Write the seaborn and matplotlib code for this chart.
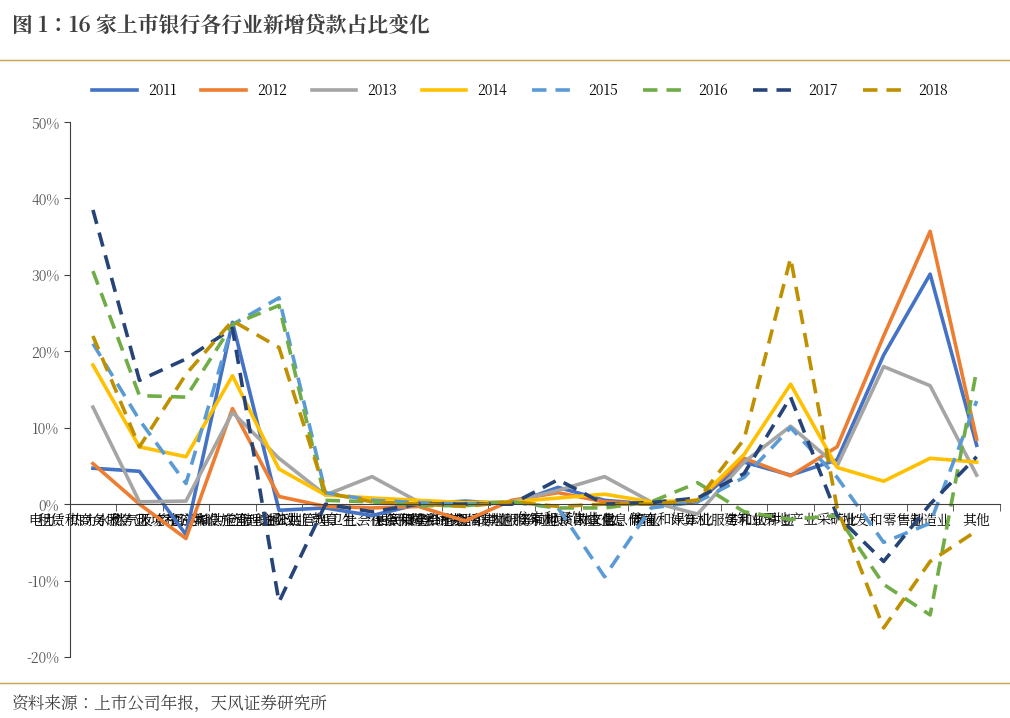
import seaborn as sns
import pandas as pd
import matplotlib.pyplot as plt
from matplotlib import font_manager as fm
from matplotlib.lines import Line2D

# find a CJK font file and register it
cjk_name = "Noto Sans CJK SC"
for f in fm.findSystemFonts():
    if "NotoSansCJK" in f or "NotoSansSC" in f or "CJK" in f:
        try:
            fm.fontManager.addfont(f)
            nm = fm.FontProperties(fname=f).get_name()
            if "CJK" in nm or "SC" in nm:
                cjk_name = nm
        except Exception:
            pass
plt.rcParams["font.family"] = "sans-serif"
plt.rcParams["font.sans-serif"] = [cjk_name, "Noto Sans CJK SC", "Noto Sans CJK JP", "DejaVu Sans"]
plt.rcParams["axes.unicode_minus"] = False

categories = [
    "租赁和商务服务业", "电力、热力、燃气及水生产和供应业", "水利、环境和公共设施管理业",
    "交通运输、仓储和邮政业", "金融业", "教育", "公共管理、社会保障和社会组织",
    "卫生、社会保障和社会福利业", "居民服务、修理和其他服务业", "科学研究、技术服务和地质勘查业",
    "住宿和餐饮业", "农、林、牧、渔业", "文化、体育和娱乐业", "信息传输、计算机服务和软件业",
    "建筑业", "房地产业", "采矿业", "批发和零售业", "制造业", "其他",
]

y2011 = [4.7, 4.3, -4.0, 23.8, -0.8, -0.5, -1.5, 0.0, 0.4, 0.0, 2.2, 0.5, 0.0, 0.3, 5.5, 3.8, 5.8, 19.5, 30.1, 7.7]
y2012 = [5.3, 0.0, -4.5, 12.5, 1.0, -0.3, -0.5, -0.3, -2.2, 0.5, 1.5, 0.3, 0.0, 0.5, 6.0, 3.7, 7.5, 22.0, 35.7, 8.5]
y2013 = [12.7, 0.3, 0.4, 12.0, 6.0, 1.2, 3.6, 0.3, 0.0, 0.3, 1.8, 3.6, 0.3, -1.3, 5.5, 10.2, 5.0, 18.0, 15.5, 3.8]
y2014 = [18.2, 7.5, 6.2, 16.8, 4.6, 1.2, 0.8, 0.5, 0.2, 0.3, 0.8, 1.3, 0.3, 0.5, 6.5, 15.7, 4.8, 3.0, 6.0, 5.5]
y2015 = [21.0, 11.0, 2.7, 23.5, 27.0, 1.5, 0.5, 0.2, 0.0, 0.3, -0.5, -9.5, -0.5, 0.3, 3.5, 10.0, 3.5, -5.0, -2.5, 13.5]
y2016 = [30.5, 14.2, 14.0, 23.5, 26.0, 0.5, 0.3, -0.2, -0.2, 0.3, -0.5, -0.5, 0.3, 2.8, -1.0, -2.0, -1.5, -10.5, -14.5, 17.5]
y2017 = [38.5, 16.2, 19.0, 23.0, -12.8, 0.0, -1.0, 0.0, 0.0, 0.0, 3.2, 0.0, 0.2, 0.8, 4.0, 14.0, -1.5, -7.5, 0.0, 6.2]
y2018 = [22.0, 7.5, 17.0, 24.0, 20.5, 1.5, 0.3, 0.0, -0.3, 0.3, -0.3, 0.0, 0.0, 0.5, 8.5, 32.2, -0.5, -16.2, -7.5, -3.5]

years = ["2011", "2012", "2013", "2014", "2015", "2016", "2017", "2018"]
series = [y2011, y2012, y2013, y2014, y2015, y2016, y2017, y2018]
colors = ["#4472C4", "#ED7D31", "#A5A5A5", "#FFC000", "#5B9BD5", "#70AD47", "#264478", "#BF9000"]

rows = []
for yr, vals in zip(years, series):
    for i, v in enumerate(vals):
        rows.append({"x": i, "value": v, "year": yr})
df = pd.DataFrame(rows)

palette = dict(zip(years, colors))
dashes = {yr: ("" if int(yr) < 2015 else (4, 2.5)) for yr in years}

fig = plt.figure(figsize=(10.1, 7.18), dpi=100)
ax = fig.add_axes([0.069, 0.085, 0.921, 0.745])
sns.lineplot(data=df, x="x", y="value", hue="year", style="year", palette=palette,
             dashes=dashes, linewidth=2.6, ax=ax, legend=False)

ax.set_xlim(-0.5, 19.5)
ax.set_ylim(-20, 50)
ax.set_yticks(range(-20, 51, 10))
ax.set_yticklabels([f"{t}%" for t in range(-20, 51, 10)], fontsize=10, color="#555555")
ax.set_xticks([i - 0.5 for i in range(len(categories) + 1)], minor=True)
ax.set_xticks(range(len(categories)))
ax.set_xticklabels(categories, fontsize=10, color="#595959")
for lbl in ax.get_xticklabels():
    lbl.set_rotation(45)
    lbl.set_ha("right")
    lbl.set_va("top")
    lbl.set_rotation_mode("anchor")
ax.tick_params(axis="x", which="major", length=0, pad=6)
ax.tick_params(axis="x", which="minor", length=5, color="#404040")
ax.tick_params(axis="y", length=4, color="#404040")
ax.spines["bottom"].set_position(("data", 0))
ax.spines["top"].set_visible(False)
ax.spines["right"].set_visible(False)
for s in ("bottom", "left"):
    ax.spines[s].set_color("#404040")
ax.set_xlabel("")
ax.set_ylabel("")

handles = [Line2D([0], [0], color=c, lw=2.6, linestyle="-" if int(y) < 2015 else (0, (4, 2.5)))
           for y, c in zip(years, colors)]
fig.legend(handles, years, loc="center", bbox_to_anchor=(0.515, 0.873), ncol=8,
           frameon=False, fontsize=10, handlelength=3.2, columnspacing=1.8)

fig.text(0.012, 0.965, "图 1：16 家上市银行各行业新增贷款占比变化", fontsize=15,
         fontweight="bold", color="#404040", va="center")
fig.text(0.012, 0.02, "资料来源：上市公司年报，天风证券研究所", fontsize=12,
         color="#404040", va="center")
fig.add_artist(Line2D([0, 1], [0.917, 0.917], color="#C9A54A", lw=1, transform=fig.transFigure))
fig.add_artist(Line2D([0, 1], [0.049, 0.049], color="#C9A54A", lw=1, transform=fig.transFigure))

fig.savefig("out.png", dpi=100)
